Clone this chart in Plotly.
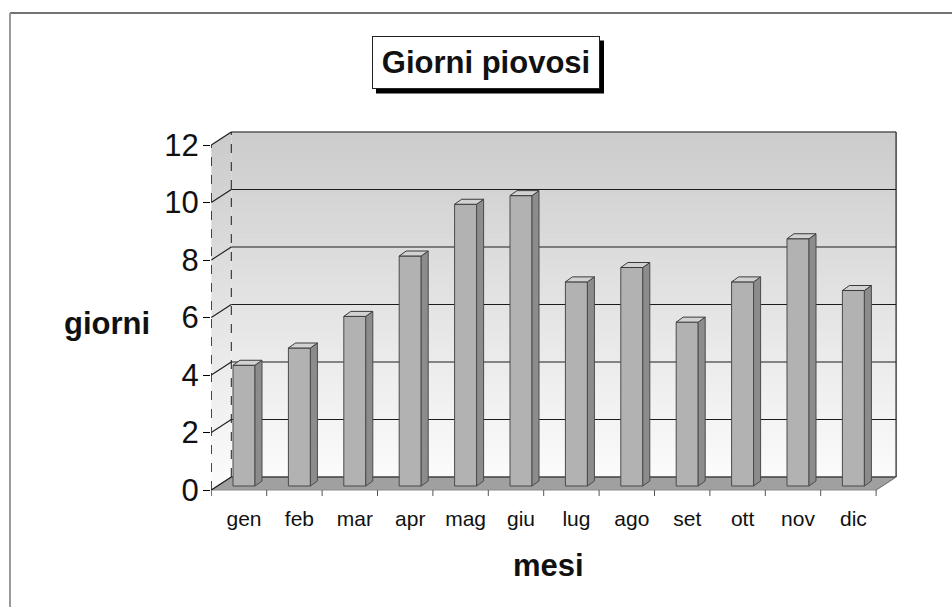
import plotly.graph_objects as go

# ---------------- data ----------------
months = ["gen", "feb", "mar", "apr", "mag", "giu", "lug", "ago", "set", "ott", "nov", "dic"]
rainy_days = [4.2, 4.8, 5.9, 8.0, 9.8, 10.1, 7.1, 7.6, 5.7, 7.1, 8.6, 6.8]
y_ticks = [0, 2, 4, 6, 8, 10, 12]
title_text = "Giorni piovosi"
x_title = "mesi"
y_title = "giorni"

# ---------------- geometry (pixels) ----------------
W, H = 952, 607
L, R, T, B = 211, 925, 110, 500
XC0, SP = 244.0, 55.4      # pixel x of first category centre, spacing
Y0, UNIT = 486.0, 28.75    # pixel y of value 0 (bar plane), px per unit

xr = [(L - XC0) / SP, (R - XC0) / SP]
yr = [(Y0 - B) / UNIT, (Y0 - T) / UNIT]


def dx(px):
    return px / SP


def dy(px):
    return px / UNIT


FX, FY = dx(-5), dy(-4)     # front plane offset from bar plane
BX, BY = dx(15), dy(9)      # back plane offset from bar plane
BAR_W = 22 / SP
BDX, BDY = dx(7), dy(5)     # bar depth
n = len(months)
X_LO, X_HI = -0.5, n - 0.5
YMAX = y_ticks[-1]

FONT = "Liberation Sans, Arial, sans-serif"


def paper_x(px):
    return (px - L) / (R - L)


def paper_y(py):
    return (B - py) / (B - T)


def grad(f):
    # f=0 bottom (light), f=1 top (darker)
    c0, c1 = 251, 204
    c = int(round(c0 + (c1 - c0) * f))
    return f"rgb({c},{c},{c})"


shapes = []
NB = 48
for k in range(NB):
    v0 = YMAX * k / NB
    v1 = YMAX * (k + 1) / NB + 0.02
    col = grad((k + 0.5) / NB)
    shapes.append(dict(type="rect", xref="x", yref="y", layer="below",
                       x0=X_LO + BX, x1=X_HI + BX, y0=v0 + BY, y1=v1 + BY,
                       fillcolor=col, line=dict(width=0)))
    shapes.append(dict(type="path", xref="x", yref="y", layer="below",
                       path=(f"M{X_LO+FX},{v0+FY} L{X_LO+BX},{v0+BY} "
                             f"L{X_LO+BX},{v1+BY} L{X_LO+FX},{v1+FY} Z"),
                       fillcolor=col, line=dict(width=0)))

# floor
shapes.append(dict(type="path", xref="x", yref="y", layer="below",
                   path=(f"M{X_LO+FX},{FY} L{X_HI+FX},{FY} "
                         f"L{X_HI+BX},{BY} L{X_LO+BX},{BY} Z"),
                   fillcolor="#a0a0a0", line=dict(color="#8a8a8a", width=1)))

GL = dict(color="#1c1c1c", width=1.1)
for t in y_ticks:
    shapes.append(dict(type="line", xref="x", yref="y", layer="below",
                       x0=X_LO + BX, x1=X_HI + BX, y0=t + BY, y1=t + BY, line=GL))
    shapes.append(dict(type="line", xref="x", yref="y", layer="below",
                       x0=X_LO + FX, x1=X_LO + BX, y0=t + FY, y1=t + BY, line=GL))

# box edges
shapes.append(dict(type="line", xref="x", yref="y", layer="below",
                   x0=X_LO + BX, x1=X_LO + BX, y0=BY, y1=YMAX + BY,
                   line=dict(color="#1c1c1c", width=1, dash="dash")))
shapes.append(dict(type="line", xref="x", yref="y", layer="below",
                   x0=X_LO + FX, x1=X_LO + FX, y0=FY, y1=YMAX + FY,
                   line=dict(color="#1c1c1c", width=1, dash="dash")))
shapes.append(dict(type="line", xref="x", yref="y", layer="below",
                   x0=X_HI + BX, x1=X_HI + BX, y0=BY, y1=YMAX + BY,
                   line=dict(color="#1c1c1c", width=1.2)))
shapes.append(dict(type="line", xref="x", yref="y", layer="below",
                   x0=X_HI + FX, x1=X_HI + BX, y0=FY, y1=BY,
                   line=dict(color="#777777", width=1)))

# category ticks on the front floor edge
for i in range(n + 1):
    xb = X_LO + i + FX
    shapes.append(dict(type="line", xref="x", yref="y", layer="below",
                       x0=xb, x1=xb, y0=FY, y1=FY - dy(6),
                       line=dict(color="#555555", width=1)))

# 3D faces of the bars
for i, v in enumerate(rainy_days):
    xl, xrr = i - BAR_W / 2, i + BAR_W / 2
    shapes.append(dict(type="path", xref="x", yref="y", layer="above",
                       path=(f"M{xrr},0 L{xrr+BDX},{BDY} L{xrr+BDX},{v+BDY} L{xrr},{v} Z"),
                       fillcolor="#8c8c8c", line=dict(color="#4a4a4a", width=1)))
    shapes.append(dict(type="path", xref="x", yref="y", layer="above",
                       path=(f"M{xl},{v} L{xrr},{v} L{xrr+BDX},{v+BDY} L{xl+BDX},{v+BDY} Z"),
                       fillcolor="#d2d2d2", line=dict(color="#3a3a3a", width=1)))

# outer frame of the scanned page
shapes.append(dict(type="line", xref="paper", yref="paper",
                   x0=paper_x(10), x1=paper_x(952), y0=paper_y(13), y1=paper_y(13),
                   line=dict(color="#444444", width=1.5)))
shapes.append(dict(type="line", xref="paper", yref="paper",
                   x0=paper_x(10), x1=paper_x(10), y0=paper_y(13), y1=paper_y(607),
                   line=dict(color="#999999", width=2)))

# title box (drawn as annotation with a shadow rectangle behind it)
TB_CX, TB_CY = 486, 63
TB_W, TB_H, TB_PAD = 214, 39, 6
tb_x0 = TB_CX - TB_W / 2 - TB_PAD - 1
tb_x1 = TB_CX + TB_W / 2 + TB_PAD + 1
tb_y0 = TB_CY - TB_H / 2 - TB_PAD - 1
tb_y1 = TB_CY + TB_H / 2 + TB_PAD + 1
SH = 4
shapes.append(dict(type="rect", xref="paper", yref="paper", layer="above",
                   x0=paper_x(tb_x0 + SH), x1=paper_x(tb_x1 + SH),
                   y0=paper_y(tb_y1 + SH), y1=paper_y(tb_y0 + SH),
                   fillcolor="black", line=dict(width=0)))

fig = go.Figure()
fig.add_trace(go.Bar(
    x=list(range(n)), y=rainy_days, width=BAR_W,
    marker=dict(color="#b2b2b2", line=dict(color="#4a4a4a", width=1)),
    hoverinfo="skip", showlegend=False,
))

annotations = [
    dict(text=f"<b>{title_text}</b>", xref="paper", yref="paper",
         x=paper_x(TB_CX), y=paper_y(TB_CY), xanchor="center", yanchor="middle",
         width=TB_W, height=TB_H, showarrow=False,
         font=dict(family=FONT, size=31, color="#111111"),
         bgcolor="white", bordercolor="#222222", borderwidth=1, borderpad=TB_PAD),
    dict(text=f"<b>{y_title}</b>", xref="paper", yref="paper",
         x=paper_x(107), y=paper_y(323), xanchor="center", yanchor="middle",
         showarrow=False, font=dict(family=FONT, size=31, color="#111111")),
    dict(text=f"<b>{x_title}</b>", xref="paper", yref="paper",
         x=paper_x(548), y=paper_y(565), xanchor="center", yanchor="middle",
         showarrow=False, font=dict(family=FONT, size=31, color="#111111")),
]

fig.update_layout(
    width=W, height=H,
    margin=dict(l=L, r=W - R, t=T, b=H - B, pad=0),
    paper_bgcolor="white", plot_bgcolor="white",
    shapes=shapes, annotations=annotations,
    showlegend=False,
    xaxis=dict(range=xr, tickvals=list(range(n)), ticktext=months,
               showgrid=False, zeroline=False, showline=False, ticks="",
               tickfont=dict(family=FONT, size=21, color="#111111"),
               ticklabelstandoff=4),
    yaxis=dict(range=yr, tickvals=[t + FY for t in y_ticks],
               ticktext=[str(t) for t in y_ticks],
               showgrid=False, zeroline=False, showline=False,
               ticks="outside", ticklen=7, tickcolor="black", tickwidth=1,
               tickfont=dict(family=FONT, size=31, color="#111111"),
               ticklabelstandoff=-2),
)

fig.write_html("out.html")
